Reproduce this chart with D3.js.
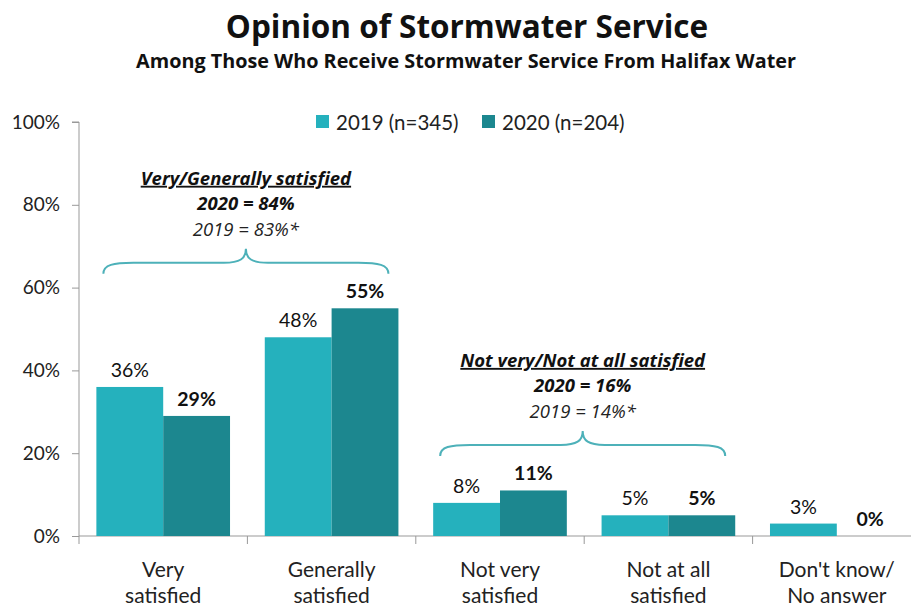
<!DOCTYPE html>
<html>
<head>
<meta charset="utf-8">
<script src="https://cdn.jsdelivr.net/npm/d3@7/dist/d3.min.js"></script>
<style>
  html, body { margin: 0; padding: 0; background: #fff; }
  svg { display: block; font-family: Lato, "Open Sans", sans-serif; }
</style>
</head>
<body>
<svg id="chart" width="911" height="608"></svg>
<script>
// Survey responses: opinion of stormwater service (%)
const categories = [["Very", "satisfied"], ["Generally", "satisfied"], ["Not very", "satisfied"], ["Not at all", "satisfied"], ["Don't know/", "No answer"]];
const seriesNames = ["2019 (n=345)", "2020 (n=204)"];
const values2019 = [36, 48, 8, 5, 3];
const values2020 = [29, 55, 11, 5, 0];
const yTicks = [0, 20, 40, 60, 80, 100];

// Grouped summaries shown above braces
const groupNotes = [
  { from: 0, to: 1, level: 66, title: "Very/Generally satisfied", lines: ["2020 = 84%", "2019 = 83%*"] },
  { from: 2, to: 3, level: 22, title: "Not very/Not at all satisfied", lines: ["2020 = 16%", "2019 = 14%*"] }
];

const colors = ["#25B1BD", "#1C878F"];
const braceColor = "#4DB1B9";
const headFont = "'Open Sans', sans-serif";

const svg = d3.select("#chart");
const margin = { left: 79, right: -10, top: 122, bottom: 72 };
const W = 911, H = 608;

const keys = categories.map((c, i) => i);
const x = d3.scaleBand().domain(keys).range([margin.left, W - margin.right]).paddingInner(0).paddingOuter(0);
const inner = d3.scaleBand().domain([0, 1]).range([0, x.bandwidth()]).paddingOuter(0.26).paddingInner(0);
const y = d3.scaleLinear().domain([0, 100]).range([H - margin.bottom, margin.top]);

// Titles
svg.append("text").attr("x", 467).attr("y", 38).attr("text-anchor", "middle")
  .attr("font-family", headFont)
  .attr("font-size", 31.5).attr("font-weight", 700).attr("fill", "#111")
  .text("Opinion of Stormwater Service");
svg.append("text").attr("x", 466).attr("y", 68).attr("text-anchor", "middle")
  .attr("font-family", headFont)
  .attr("font-size", 19.8).attr("font-weight", 700).attr("fill", "#111")
  .text("Among Those Who Receive Stormwater Service From Halifax Water");

// Legend
const legend = svg.append("g");
const legendX = [316, 482];
seriesNames.forEach((name, i) => {
  legend.append("rect").attr("x", legendX[i]).attr("y", 115).attr("width", 13).attr("height", 13).attr("fill", colors[i]);
  legend.append("text").attr("x", legendX[i] + 20).attr("y", 130).attr("font-size", 20.5).attr("fill", "#222").text(name);
});

// Y axis
const yAxis = svg.append("g").attr("transform", `translate(${margin.left},0)`)
  .call(d3.axisLeft(y).tickValues(yTicks).tickFormat(d => d + "%").tickSize(7).tickPadding(12));
yAxis.select(".domain").attr("stroke", "#999").attr("d", `M-7,${y(100)}H0V${y(0)}`);
yAxis.selectAll(".tick line").attr("stroke", "#999");
yAxis.selectAll(".tick text").attr("font-size", 19).attr("fill", "#222").attr("font-family", "Lato, sans-serif");

// X axis baseline with dividers between groups
const xAxisG = svg.append("g");
xAxisG.append("line").attr("x1", margin.left).attr("x2", W).attr("y1", y(0)).attr("y2", y(0)).attr("stroke", "#999");
keys.forEach(k => {
  xAxisG.append("line").attr("x1", x(k)).attr("x2", x(k)).attr("y1", y(0)).attr("y2", y(0) + 8).attr("stroke", "#999");
});

// Category labels
keys.forEach(k => {
  const t = svg.append("text").attr("text-anchor", "middle").attr("font-size", 21).attr("fill", "#222");
  categories[k].forEach((line, j) => {
    t.append("tspan").attr("x", x(k) + x.bandwidth() / 2).attr("y", 577 + j * 25.5).text(line);
  });
});

// Bars and value labels
const series = [values2019, values2020];
series.forEach((vals, s) => {
  svg.append("g").selectAll("rect").data(vals).join("rect")
    .attr("x", (d, i) => x(i) + inner(s))
    .attr("y", d => y(d))
    .attr("width", inner.bandwidth())
    .attr("height", d => y(0) - y(d))
    .attr("fill", colors[s]);
  svg.append("g").selectAll("text").data(vals).join("text")
    .attr("x", (d, i) => x(i) + inner(s) + inner.bandwidth() / 2)
    .attr("y", d => y(d) - 10)
    .attr("text-anchor", "middle")
    .attr("font-size", 19.5)
    .attr("font-weight", s === 1 ? 700 : 400)
    .attr("fill", "#111")
    .text(d => d + "%");
});

// Curly braces with group summaries
function bracePath(x0, x1, yFlat) {
  const xm = (x0 + x1) / 2;
  const yEnd = yFlat + 11, yTip = yFlat - 14;
  const p = d3.path();
  p.moveTo(x0, yEnd);
  p.bezierCurveTo(x0, yFlat + 2, x0 + 10, yFlat, x0 + 30, yFlat);
  p.lineTo(xm - 22, yFlat);
  p.bezierCurveTo(xm - 6, yFlat, xm, yFlat - 4, xm, yTip);
  p.bezierCurveTo(xm, yFlat - 4, xm + 6, yFlat, xm + 22, yFlat);
  p.lineTo(x1 - 30, yFlat);
  p.bezierCurveTo(x1 - 10, yFlat, x1, yFlat + 2, x1, yEnd);
  return p.toString();
}

groupNotes.forEach(g => {
  const x0 = x(g.from) + inner(0) + 7;
  const x1 = x(g.to) + inner(1) + inner.bandwidth() - 10;
  const yFlat = y(g.level);
  const xm = (x0 + x1) / 2;
  const yTip = yFlat - 14;
  svg.append("path").attr("d", bracePath(x0, x1, yFlat))
    .attr("fill", "none").attr("stroke", braceColor).attr("stroke-width", 2);
  svg.append("text").attr("x", xm).attr("y", yTip - 64).attr("text-anchor", "middle")
    .attr("font-family", headFont)
    .attr("font-size", 18.5).attr("font-weight", 700).attr("font-style", "italic")
    .attr("text-decoration", "underline").attr("fill", "#111").text(g.title);
  svg.append("text").attr("x", xm).attr("y", yTip - 39).attr("text-anchor", "middle")
    .attr("font-family", headFont)
    .attr("font-size", 18.5).attr("font-weight", 700).attr("font-style", "italic")
    .attr("fill", "#111").text(g.lines[0]);
  svg.append("text").attr("x", xm).attr("y", yTip - 13).attr("text-anchor", "middle")
    .attr("font-family", headFont)
    .attr("font-size", 18.5).attr("font-style", "italic")
    .attr("fill", "#222").text(g.lines[1]);
});
</script>
</body>
</html>
